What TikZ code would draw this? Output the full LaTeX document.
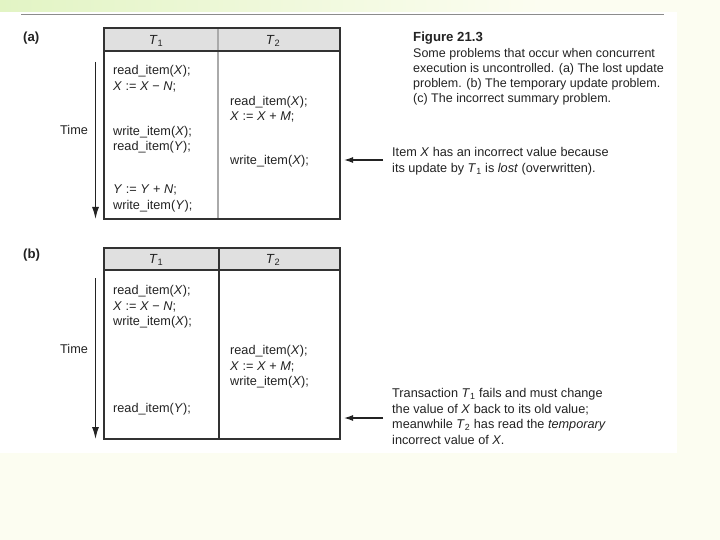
\documentclass[tikz,border=0pt]{standalone}
\usepackage{fontspec}
\setmainfont{Liberation Sans}
\usetikzlibrary{arrows.meta}
\definecolor{bandgreen}{RGB}{226,244,196}
\definecolor{pale}{RGB}{252,253,241}
\definecolor{rulegray}{RGB}{140,140,140}
\definecolor{hdrgray}{RGB}{224,224,224}
\definecolor{linegray}{RGB}{50,50,50}
\definecolor{divgray}{RGB}{170,170,170}
\definecolor{ink}{RGB}{35,35,35}
\newcommand{\Tsub}[1]{\textit{T}\textsubscript{#1}}
\newcommand{\V}[1]{\textit{#1}}
\begin{document}
\begin{tikzpicture}[x=1pt,y=-1pt,
  txt/.style={anchor=base west, inner sep=0pt, font=\fontsize{12.7}{15.5}\selectfont, text=ink},
  captxt/.style={anchor=base west, inner sep=0pt, font=\fontsize{12.5}{15}\selectfont, text=ink},
  hdrtxt/.style={anchor=base, inner sep=0pt, font=\fontsize{13.2}{15.5}\selectfont, text=ink},
  lbl/.style={anchor=base west, inner sep=0pt, font=\fontsize{13.2}{15.5}\selectfont\bfseries, text=ink},
  tbl/.style={draw=linegray, line width=1.1pt},
  arr/.style={draw=ink, line width=1.2pt, -{Latex[length=9pt,width=6pt]}},
  tarr/.style={draw=ink, line width=1.2pt, -{Latex[length=12pt,width=7pt]}}
]
\useasboundingbox (0,0) rectangle (720,540);
% background
\fill[pale] (0,0) rectangle (720,540);
\shade[left color=bandgreen, right color=pale] (0,0) rectangle (540,12);
\fill[white] (0,12) rectangle (677,453);
\draw[rulegray, line width=1.2pt] (21,14.3) -- (664,14.3);

% ---------------- (a) ----------------
\node[lbl] (la) at (23,41.6) {(a)};
\fill[hdrgray] (104,28) rectangle (340,51);
\draw[divgray, line width=1.1pt] (218,28) -- (218,219);
\draw[tbl] (104,51) -- (340,51);
\draw[tbl] (104,28) rectangle (340,219);
\node[hdrtxt] (ah1) at (156,44.6) {\Tsub{1}};
\node[hdrtxt] (ah2) at (273,44.6) {\Tsub{2}};

\coordinate (at0) at (95.5,62);
\coordinate (at1) at (95.5,219);
\draw[tarr] (at0) -- (at1);
\node[txt] (atime) at (60,135) {Time};

\node[txt] (a1) at (113,74.6) {read\_item(\V{X});};
\node[txt] (a2) at (113,90.1) {\V{X} := \V{X} − \V{N};};
\node[txt] (a3) at (113,135.1) {write\_item(\V{X});};
\node[txt] (a4) at (113,150.6) {read\_item(\V{Y});};
\node[txt] (a5) at (113,193.6) {\V{Y} := \V{Y} + \V{N};};
\node[txt] (a6) at (113,209.1) {write\_item(\V{Y});};

\node[txt] (a7) at (230,105.1) {read\_item(\V{X});};
\node[txt] (a8) at (230,120.6) {\V{X} := \V{X} + \V{M};};
\node[txt] (a9) at (230,164.6) {write\_item(\V{X});};

\coordinate (aarr) at (383,160);
\coordinate (aend) at (344,160);
\draw[arr] (aarr) -- (aend);
\node[txt] (an1) at (392,156.6) {Item \V{X} has an incorrect value because};
\node[txt] (an2) at (392,172.1) {its update by \Tsub{1} is \V{lost} (overwritten).};

% caption
\node[lbl] (cap0) at (413,41.6) {Figure 21.3};
\node[captxt] (cap1) at (413,57.6) {Some problems that occur when concurrent};
\node[captxt] (cap2) at (413,72.6) {execution is uncontrolled. (a) The lost update};
\node[captxt] (cap3) at (413,87.6) {problem. (b) The temporary update problem.};
\node[captxt] (cap4) at (413,102.6) {(c) The incorrect summary problem.};

% ---------------- (b) ----------------
\node[lbl] (lb) at (23,258.6) {(b)};
\fill[hdrgray] (104,248) rectangle (340,270);
\draw[tbl] (219,248) -- (219,439);
\draw[tbl] (104,270) -- (340,270);
\draw[tbl] (104,248) rectangle (340,439);
\node[hdrtxt] (bh1) at (156,263.6) {\Tsub{1}};
\node[hdrtxt] (bh2) at (273,263.6) {\Tsub{2}};

\coordinate (bt0) at (95.5,278);
\coordinate (bt1) at (95.5,439);
\draw[tarr] (bt0) -- (bt1);
\node[txt] (btime) at (60,353.6) {Time};

\node[txt] (b1) at (113,294.6) {read\_item(\V{X});};
\node[txt] (b2) at (113,310.1) {\V{X} := \V{X} − \V{N};};
\node[txt] (b3) at (113,325.6) {write\_item(\V{X});};
\node[txt] (b4) at (113,412.6) {read\_item(\V{Y});};

\node[txt] (b5) at (230,354.6) {read\_item(\V{X});};
\node[txt] (b6) at (230,370.1) {\V{X} := \V{X} + \V{M};};
\node[txt] (b7) at (230,385.6) {write\_item(\V{X});};

\coordinate (barr) at (383,418);
\coordinate (bend) at (344,418);
\draw[arr] (barr) -- (bend);
\node[txt] (bn1) at (392,397.6) {Transaction \Tsub{1} fails and must change};
\node[txt] (bn2) at (392,413.1) {the value of \V{X} back to its old value;};
\node[txt] (bn3) at (392,428.6) {meanwhile \Tsub{2} has read the \V{temporary}};
\node[txt] (bn4) at (392,444.1) {incorrect value of \V{X}.};
\end{tikzpicture}
\end{document}
